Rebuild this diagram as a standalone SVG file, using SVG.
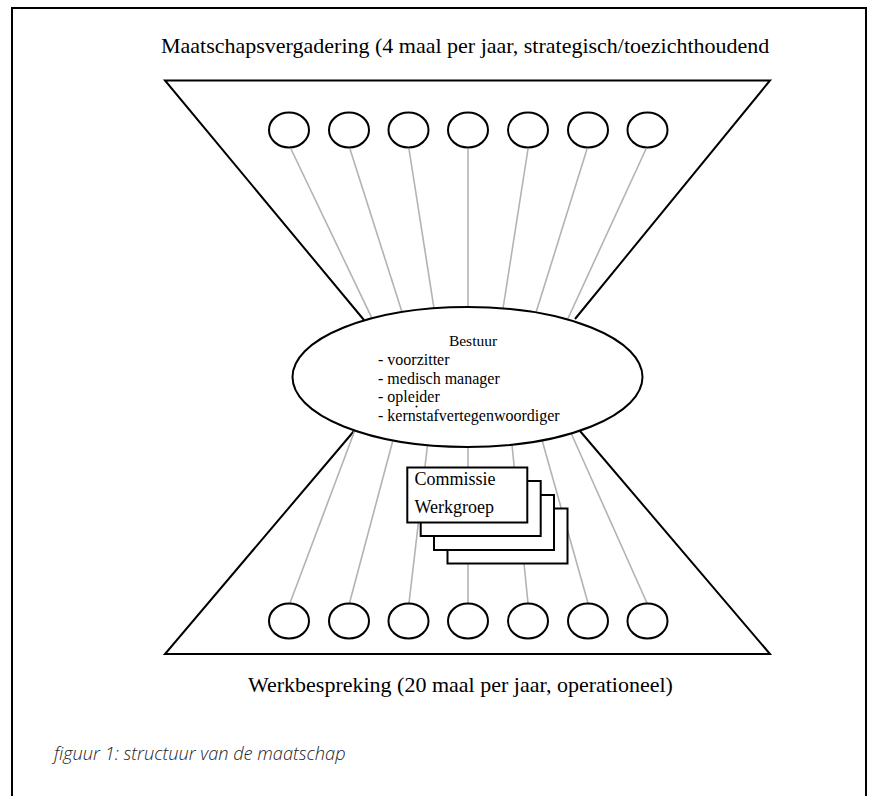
<svg xmlns="http://www.w3.org/2000/svg" width="875" height="796" viewBox="0 0 875 796">
<style>
.frame{fill:none;stroke:#000;stroke-width:2}
.trap{fill:none;stroke:#000;stroke-width:2;stroke-linejoin:miter}
.node{fill:#fff;stroke:#000;stroke-width:2}
.conn{stroke:#b3b3b3;stroke-width:1.6;fill:none}
.box{fill:#fff;stroke:#000;stroke-width:2}
.serif{font-family:"Liberation Serif","Times New Roman",serif;fill:#000}
.cap{font-family:"Open Sans","Lato",sans-serif;font-style:italic;font-weight:300;fill:#222}
</style>
<rect width="875" height="796" fill="#fff"/>
<path class="frame" d="M12,796 V8 H866 V796"/>
<text class="serif" x="161" y="53" font-size="22">Maatschapsvergadering (4 maal per jaar, strategisch/toezichthoudend</text>
<g id="funnel">
<polyline class="trap" points="364,320 165,80.5 770,80.5 575,319"/>
<polyline class="trap" points="354,431 165,654 770,654 580,431"/>
</g>
<g id="connectors">
<line class="conn" x1="291" y1="149" x2="372" y2="318.4"/>
<line class="conn" x1="350" y1="149" x2="402" y2="312.1"/>
<line class="conn" x1="409" y1="149" x2="434" y2="308.3"/>
<line class="conn" x1="468" y1="149" x2="468" y2="307"/>
<line class="conn" x1="528" y1="149" x2="503" y2="308.5"/>
<line class="conn" x1="587" y1="149" x2="536" y2="312.6"/>
<line class="conn" x1="646" y1="149" x2="567.5" y2="319.5"/>
<line class="conn" x1="355" y1="430" x2="290" y2="603"/>
<line class="conn" x1="393" y1="440" x2="349.5" y2="603"/>
<line class="conn" x1="427.5" y1="445" x2="409" y2="603"/>
<line class="conn" x1="468" y1="447" x2="468" y2="603"/>
<line class="conn" x1="512" y1="445" x2="528" y2="603"/>
<line class="conn" x1="542" y1="440" x2="588" y2="603"/>
<line class="conn" x1="571" y1="433" x2="647" y2="603"/>
</g>
<g id="top-members">
<ellipse class="node" cx="289" cy="130" rx="20" ry="17.5"/>
<ellipse class="node" cx="349" cy="130" rx="20" ry="17.5"/>
<ellipse class="node" cx="408.5" cy="130" rx="20" ry="17.5"/>
<ellipse class="node" cx="468" cy="130" rx="20" ry="17.5"/>
<ellipse class="node" cx="528" cy="130" rx="20" ry="17.5"/>
<ellipse class="node" cx="588" cy="130" rx="20" ry="17.5"/>
<ellipse class="node" cx="647.5" cy="130" rx="20" ry="17.5"/>
</g>
<g id="bestuur">
<ellipse class="node" cx="467.5" cy="377" rx="175" ry="70"/>
<text class="serif" x="473" y="346" font-size="15.5" text-anchor="middle">Bestuur</text>
<text class="serif" x="378" y="365" font-size="16">- voorzitter</text>
<text class="serif" x="378" y="383.5" font-size="16">- medisch manager</text>
<text class="serif" x="378" y="402" font-size="16">- opleider</text>
<text class="serif" x="378" y="420.5" font-size="16">- kernstafvertegenwoordiger</text>
<circle cx="416.5" cy="406.5" r="1" fill="#000"/>
</g>
<g id="commissies">
<rect class="box" x="447.5" y="508.5" width="120" height="55"/>
<rect class="box" x="434" y="495" width="120" height="55"/>
<rect class="box" x="420.7" y="481" width="120" height="55"/>
<rect class="box" x="407.3" y="467.5" width="120" height="55"/>
<text class="serif" x="414.5" y="485" font-size="18">Commissie</text>
<text class="serif" x="414.5" y="513" font-size="18">Werkgroep</text>
</g>
<g id="bottom-members">
<ellipse class="node" cx="289" cy="621" rx="20" ry="17.5"/>
<ellipse class="node" cx="349" cy="621" rx="20" ry="17.5"/>
<ellipse class="node" cx="408.5" cy="621" rx="20" ry="17.5"/>
<ellipse class="node" cx="468" cy="621" rx="20" ry="17.5"/>
<ellipse class="node" cx="528" cy="621" rx="20" ry="17.5"/>
<ellipse class="node" cx="588" cy="621" rx="20" ry="17.5"/>
<ellipse class="node" cx="647.5" cy="621" rx="20" ry="17.5"/>
</g>
<text class="serif" x="248" y="692" font-size="22">Werkbespreking (20 maal per jaar, operationeel)</text>
<text class="cap" x="54" y="760" font-size="18.2">figuur 1: structuur van de maatschap</text>
</svg>
